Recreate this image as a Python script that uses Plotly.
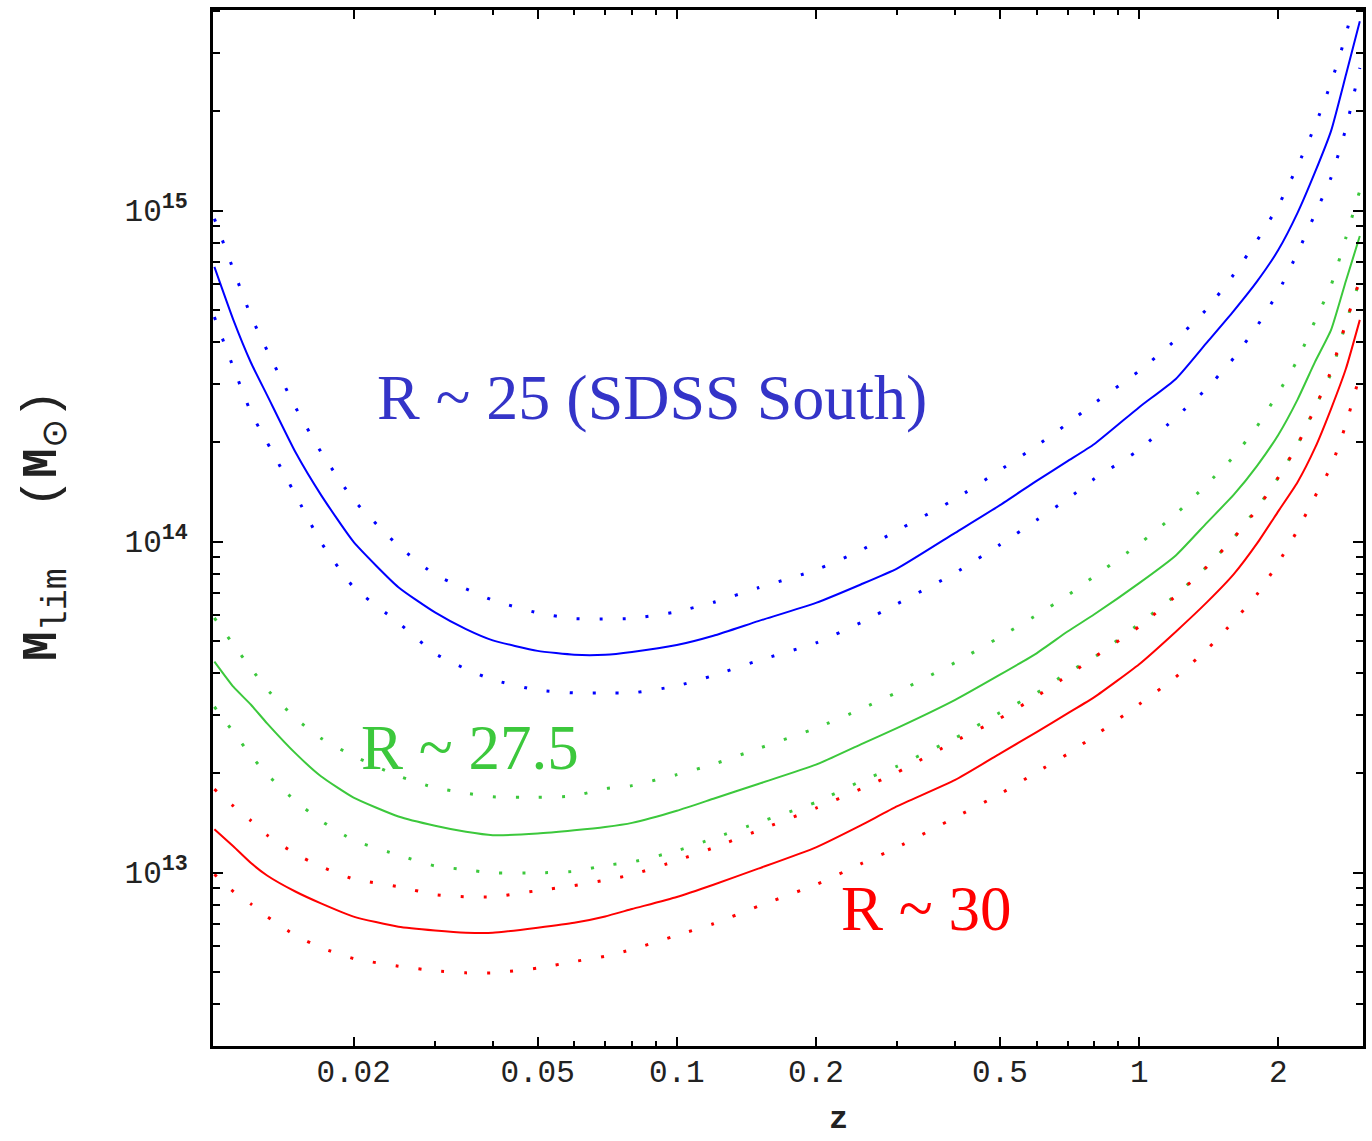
import plotly.graph_objects as go

# ---------------- data ----------------
z = [0.01, 0.011, 0.012, 0.013, 0.015, 0.017, 0.02, 0.025, 0.03, 0.035, 0.04,
     0.05, 0.06, 0.07, 0.08, 0.1, 0.12, 0.15, 0.2, 0.25, 0.3, 0.4, 0.5, 0.6,
     0.7, 0.8, 1.0, 1.2, 1.4, 1.6, 1.8, 2.0, 2.2, 2.4, 2.6, 2.8, 3.0]

# R ~ 25 (SDSS South)
blue_mid = [6.76e14, 4.66e14, 3.47e14, 2.77e14, 1.854e14, 1.384e14, 9.98e13, 7.28e13,
            6.11e13, 5.44e13, 5.03e13, 4.675e13, 4.55e13, 4.55e13, 4.64e13, 4.87e13,
            5.195e13, 5.75e13, 6.53e13, 7.42e13, 8.30e13, 1.063e14, 1.288e14, 1.526e14,
            1.749e14, 1.971e14, 2.547e14, 3.10e14, 3.99e14, 4.97e14, 6.12e14, 7.61e14,
            9.84e14, 1.306e15, 1.741e15, 2.572e15, 3.73e15]
blue_hi = [9.45e14, 6.61e14, 4.80e14, 3.78e14, 2.535e14, 1.866e14, 1.337e14, 9.71e13,
           7.94e13, 7.20e13, 6.65e13, 6.09e13, 5.85e13, 5.84e13, 5.86e13, 6.14e13,
           6.55e13, 7.25e13, 8.21e13, 9.41e13, 1.081e14, 1.345e14, 1.643e14, 1.947e14,
           2.273e14, 2.619e14, 3.28e14, 4.07e14, 5.04e14, 6.40e14, 8.14e14, 1.036e15,
           1.363e15, 1.803e15, 2.434e15, 3.40e15, 5.08e15]
blue_lo = [4.77e14, 3.345e14, 2.453e14, 1.995e14, 1.379e14, 9.96e13, 7.28e13, 5.69e13,
           4.59e13, 4.12e13, 3.824e13, 3.556e13, 3.49e13, 3.49e13, 3.49e13, 3.664e13,
           3.94e13, 4.37e13, 4.94e13, 5.69e13, 6.49e13, 8.04e13, 9.79e13, 1.161e14,
           1.345e14, 1.547e14, 1.894e14, 2.374e14, 2.90e14, 3.58e14, 4.485e14, 5.69e14,
           7.455e14, 9.76e14, 1.259e15, 1.775e15, 2.70e15]

# R ~ 27.5
green_mid = [4.34e13, 3.637e13, 3.213e13, 2.824e13, 2.287e13, 1.954e13, 1.684e13, 1.477e13,
             1.385e13, 1.328e13, 1.297e13, 1.312e13, 1.342e13, 1.373e13, 1.413e13, 1.537e13,
             1.671e13, 1.852e13, 2.118e13, 2.44e13, 2.736e13, 3.325e13, 3.962e13, 4.597e13,
             5.348e13, 6.03e13, 7.49e13, 9.08e13, 1.139e14, 1.383e14, 1.697e14, 2.104e14,
             2.685e14, 3.49e14, 4.36e14, 6.14e14, 8.375e14]
green_hi = [5.88e13, 4.877e13, 4.14e13, 3.577e13, 2.919e13, 2.547e13, 2.249e13, 1.958e13,
            1.804e13, 1.738e13, 1.694e13, 1.687e13, 1.705e13, 1.793e13, 1.831e13, 1.976e13,
            2.125e13, 2.369e13, 2.731e13, 3.117e13, 3.508e13, 4.31e13, 5.15e13, 5.995e13,
            6.875e13, 7.856e13, 9.84e13, 1.211e14, 1.489e14, 1.804e14, 2.234e14, 2.817e14,
            3.539e14, 4.643e14, 5.943e14, 8.29e14, 1.15e15]
green_lo = [3.169e13, 2.654e13, 2.256e13, 1.979e13, 1.642e13, 1.434e13, 1.2525e13, 1.129e13,
            1.047e13, 1.0198e13, 9.98e12, 9.98e12, 1.0083e13, 1.051e13, 1.076e13, 1.163e13,
            1.268e13, 1.416e13, 1.630e13, 1.889e13, 2.098e13, 2.55e13, 3.043e13, 3.49e13,
            4.017e13, 4.475e13, 5.645e13, 6.894e13, 8.405e13, 1.025e14, 1.266e14, 1.563e14,
            1.965e14, 2.542e14, 3.227e14, 4.585e14, 6.175e14]

# R ~ 30
red_mid = [1.352e13, 1.198e13, 1.068e13, 9.80e12, 8.75e12, 8.07e12, 7.36e12, 6.855e12,
           6.68e12, 6.58e12, 6.575e12, 6.815e12, 7.05e12, 7.37e12, 7.76e12, 8.44e12,
           9.19e12, 1.0275e13, 1.192e13, 1.389e13, 1.587e13, 1.905e13, 2.287e13, 2.657e13,
           3.027e13, 3.39e13, 4.262e13, 5.344e13, 6.55e13, 7.96e13, 9.89e13, 1.236e14,
           1.511e14, 1.918e14, 2.519e14, 3.332e14, 4.675e14]
red_hi = [1.786e13, 1.588e13, 1.434e13, 1.297e13, 1.137e13, 1.042e13, 9.56e12, 9.06e12,
          8.58e12, 8.445e12, 8.445e12, 8.82e12, 9.13e12, 9.485e12, 9.85e12, 1.087e13,
          1.188e13, 1.340e13, 1.565e13, 1.788e13, 2.009e13, 2.495e13, 2.925e13, 3.406e13,
          3.937e13, 4.475e13, 5.54e13, 6.855e13, 8.387e13, 1.025e14, 1.255e14, 1.565e14,
          1.959e14, 2.535e14, 3.281e14, 4.585e14, 6.175e14]
red_lo = [9.88e12, 8.75e12, 8.03e12, 7.365e12, 6.445e12, 5.935e12, 5.497e12, 5.214e12,
          5.047e12, 4.977e12, 4.977e12, 5.146e12, 5.384e12, 5.586e12, 5.857e12, 6.462e12,
          7.003e12, 7.91e12, 9.20e12, 1.062e13, 1.193e13, 1.468e13, 1.728e13, 2.011e13,
          2.282e13, 2.587e13, 3.225e13, 3.895e13, 4.714e13, 5.74e13, 6.94e13, 8.64e13,
          1.082e14, 1.369e14, 1.685e14, 2.263e14, 3.189e14]

labels = ["R ~ 25 (SDSS South)", "R ~ 27.5", "R ~ 30"]

x_tick_vals = [0.02, 0.05, 0.1, 0.2, 0.5, 1, 2]
x_tick_text = ["0.02", "0.05", "0.1", "0.2", "0.5", "1", "2"]
x_minor_vals = [0.03, 0.04, 0.06, 0.07, 0.08, 0.09, 0.3, 0.4, 0.6, 0.7, 0.8, 0.9]
y_tick_vals = [1e13, 1e14, 1e15]
y_tick_text = ["10<sup><b>13</b></sup>", "10<sup><b>14</b></sup>", "10<sup><b>15</b></sup>"]
y_minor_vals = [m * 10.0 ** e for e in (12, 13, 14, 15) for m in range(2, 10)]

# ---------------- styling ----------------
BLUE = "#0000FF"
GREEN = "#3CC83C"
RED = "#FF0000"
BLUE_TXT = "#3434C8"

fig = go.Figure()


def add(y, color, solid):
    if solid:
        line = dict(color=color, width=2, shape="spline", smoothing=0.5)
    else:
        line = dict(color=color, width=3, dash="3px,20px", shape="spline", smoothing=0.5)
    fig.add_trace(go.Scatter(x=z, y=y, mode="lines", line=line,
                             showlegend=False, hoverinfo="skip"))


for series, col in ((blue_hi, BLUE), (blue_lo, BLUE), (green_hi, GREEN),
                    (green_lo, GREEN), (red_hi, RED), (red_lo, RED)):
    add(series, col, False)
for series, col in ((blue_mid, BLUE), (green_mid, GREEN), (red_mid, RED)):
    add(series, col, True)

fig.update_layout(
    width=1372, height=1141,
    margin=dict(l=213, r=6, t=10, b=95),
    plot_bgcolor="white", paper_bgcolor="white",
    showlegend=False,
)

tickfont = dict(family="Liberation Mono", size=31, color="#222222")

fig.update_xaxes(
    type="log", range=[-2.003, 0.484],
    tickmode="array", tickvals=x_tick_vals, ticktext=x_tick_text,
    ticks="inside", ticklen=9, tickwidth=2, tickcolor="black",
    showline=True, linewidth=3, linecolor="black", mirror="ticks",
    showgrid=False, zeroline=False, tickfont=tickfont, ticklabelstandoff=-4,
    minor=dict(tickmode="array", tickvals=x_minor_vals, ticks="inside",
               ticklen=5, tickwidth=2, tickcolor="black", showgrid=False),
)
fig.update_yaxes(
    type="log", range=[12.476, 15.606],
    tickmode="array", tickvals=y_tick_vals, ticktext=y_tick_text,
    ticks="inside", ticklen=10, tickwidth=2, tickcolor="black",
    showline=True, linewidth=3, linecolor="black", mirror="ticks",
    showgrid=False, zeroline=False, tickfont=tickfont, ticklabelstandoff=16,
    minor=dict(tickmode="array", tickvals=y_minor_vals, ticks="inside",
               ticklen=7, tickwidth=2, tickcolor="black", showgrid=False),
)

serif = "Liberation Serif"
fig.add_annotation(text=labels[0], xref="paper", yref="paper", x=0.3816, y=0.6264,
                   xanchor="center", yanchor="middle", showarrow=False,
                   font=dict(family=serif, size=64, color=BLUE_TXT))
fig.add_annotation(text=labels[1], xref="paper", yref="paper", x=0.2238, y=0.2876,
                   xanchor="center", yanchor="middle", showarrow=False,
                   font=dict(family=serif, size=63, color=GREEN))
fig.add_annotation(text=labels[2], xref="paper", yref="paper", x=0.6206, y=0.1322,
                   xanchor="center", yanchor="middle", showarrow=False,
                   font=dict(family=serif, size=63, color=RED))

# axis titles
fig.add_annotation(text="<b>z</b>", xref="paper", yref="paper", x=0.5438, y=-0.0912,
                   xanchor="center", yanchor="bottom", showarrow=False,
                   font=dict(family="Liberation Mono", size=32, color="#222222"))
fig.add_annotation(text="<b>M</b><sub>lim</sub>  (<b>M</b><sub>⊙</sub>)",
                   xref="paper", yref="paper", x=-0.1457, y=0.503,
                   xanchor="center", yanchor="middle", showarrow=False, textangle=-90,
                   font=dict(family="Liberation Mono", size=50, color="#222222"))

fig.write_html("out.html")
